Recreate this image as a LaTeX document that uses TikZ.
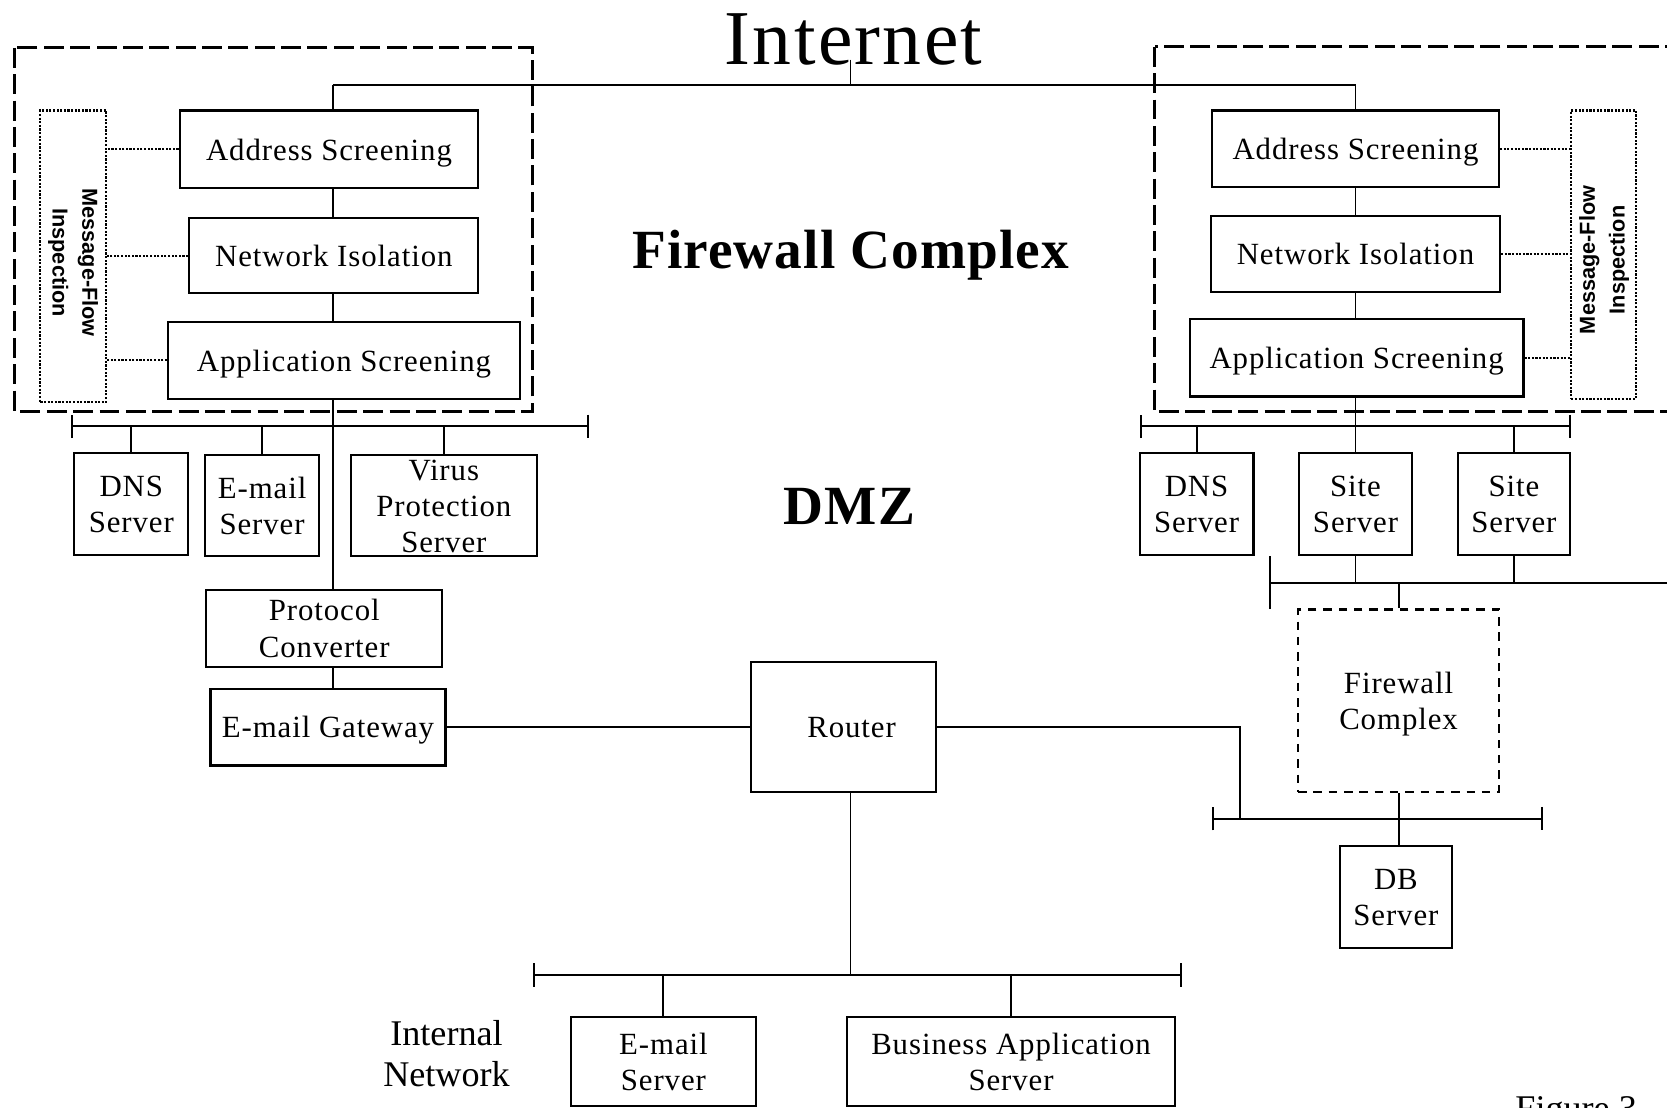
\documentclass[tikz,border=0pt]{standalone}
\usepackage{fontspec}
\setmainfont{Liberation Serif}[LetterSpace=3]
\setsansfont{Liberation Sans}
\newfontfamily\headfont{Liberation Serif}[LetterSpace=2]
\newfontfamily\plainfont{Liberation Serif}
\usetikzlibrary{arrows.meta}

\tikzset{
  boxbase/.style={draw, line width=1pt, inner sep=0pt, text depth=-1pt, font=\fontsize{14.5}{17}\selectfont},
  box/.style={boxbase, align=center},
  sz/.style 2 args={minimum width=#1*0.5pt, minimum height=#2*0.5pt},
  wire/.style={line width=0.9pt},
  bus/.style={wire, {Bar[width=11pt]}-{Bar[width=11pt]}},
  zone/.style={line width=1.5pt, dash pattern=on 9.4pt off 3pt},
  fwbox/.style={box, line width=1.3pt, dash pattern=on 4pt off 3.2pt},
  inspect/.style={draw, line width=1pt, dash pattern=on 1pt off 0.7pt, inner sep=0pt, font=\sffamily\bfseries\fontsize{10.2}{14}\selectfont},
  dots/.style={line width=1pt, dash pattern=on 1pt off 0.7pt},
  heading/.style={font=\headfont\bfseries\fontsize{26}{30}\selectfont, inner sep=0pt},
  plain/.style={font=\plainfont\fontsize{17}{19.5}\selectfont, inner sep=0pt},
}

\begin{document}
\begin{tikzpicture}[x=0.5pt, y=-0.5pt]
\useasboundingbox (0,0) rectangle (1568,1042);

% top
\node[font=\fontsize{36.5}{42}\selectfont, anchor=base, inner sep=0pt] (inettext) at (803,61) {Internet};
\node[heading] (fwtext) at (800,240) {Firewall Complex};
\node[heading] (dmztext) at (799,476) {DMZ};

\coordinate (inet) at (800,56);
\coordinate (spineL) at (313,80);
\coordinate (spineR) at (1275,80);
\draw[wire] (spineL) -- (spineR);
\draw[wire] (inet) -- (inet |- spineL);

% left firewall complex
\node[box, sz={281}{73}] (addrL) at (309.5,140.5) {Address Screening};
\node[box, sz={272}{71}] (netL) at (314,240.5) {Network Isolation};
\node[box, sz={331}{72}] (appL) at (323.5,339) {Application Screening};
\node[inspect, sz={62}{274}] (mfiL) at (69,241) {\rotatebox{-90}{\hspace{6pt}\begin{tabular}{@{}c@{}}Message-Flow\\Inspection\end{tabular}}};
\draw[zone] (14,45) rectangle (501,387);

\draw[wire] (spineL) -- (addrL.north -| spineL);
\draw[wire] (addrL.south -| spineL) -- (netL.north -| spineL);
\draw[wire] (netL.south -| spineL) -- (appL.north -| spineL);
\foreach \n in {addrL,netL,appL}
  \draw[dots] (\n.west) -- (\n.west -| mfiL.east);

% left DMZ
\coordinate (busLw) at (67,401);
\coordinate (busLe) at (554,401);
\draw[bus] (busLw) -- (busLe);
\node[box, sz={107}{96}] (dnsL) at (123.5,474) {DNS\\Server};
\node[box, sz={107}{95}] (mailL) at (246.5,475.5) {E-mail\\Server};
\node[boxbase, sz={175}{95}] (virus) at (417.5,475.5) {\smash{\raisebox{-5.5pt}{\begin{tabular}{@{}c@{}}Virus\\Protection\\Server\end{tabular}}}};
\foreach \n in {dnsL,mailL,virus}
  \draw[wire] (\n.north) -- (\n.north |- busLw);

\node[box, sz={222}{72}] (proto) at (305,591) {Protocol\\Converter};
\node[box, sz={221}{72}] (gate) at (308.5,684) {E-mail Gateway};
\draw[wire] (appL.south -| spineL) -- (proto.north -| spineL);
\draw[wire] (proto.south -| spineL) -- (gate.north -| spineL);

% router and internal network
\node[box, sz={174}{122}] (router) at (793,684) {\hspace{8pt}Router};
\draw[wire] (gate.east) -- (router.west);

\coordinate (busIw) at (501,917);
\coordinate (busIe) at (1112,917);
\coordinate (busIc) at (800,917);
\draw[bus] (busIw) -- (busIe);
\draw[wire] (router.south -| busIc) -- (busIc);
\node[box, sz={174}{83}] (mailI) at (624,998.5) {E-mail\\Server};
\node[box, sz={308}{83}] (bizI) at (951,998.5) {Business Application\\Server};
\foreach \n in {mailI,bizI}
  \draw[wire] (\n.north) -- (\n.north |- busIw);
\node[plain, align=center] (intnet) at (420,991) {Internal\\Network};
\node[plain, anchor=base west] (figlabel) at (1425,1054) {Figure 3};

% right firewall complex
\node[box, sz={270}{72}] (addrR) at (1275,140) {Address Screening};
\node[box, sz={272}{72}] (netR) at (1275,239) {Network Isolation};
\node[box, sz={314}{73}] (appR) at (1276,336.5) {Application Screening};
\node[inspect, sz={61}{271}] (mfiR) at (1508.5,239.5) {\rotatebox{90}{\begin{tabular}{@{}c@{}}Message-Flow\\Inspection\end{tabular}\hspace{5pt}}};
\draw[zone] (1086,44) rectangle (1600,387);

\draw[wire] (spineR) -- (addrR.north -| spineR);
\draw[wire] (addrR.south -| spineR) -- (netR.north -| spineR);
\draw[wire] (netR.south -| spineR) -- (appR.north -| spineR);
\foreach \n in {addrR,netR,appR}
  \draw[dots] (\n.east) -- (\n.east -| mfiR.west);

% right DMZ
\coordinate (busRw) at (1072,401);
\coordinate (busRe) at (1478,401);
\draw[bus] (busRw) -- (busRe);
\node[box, sz={107}{96}] (dnsR) at (1125.5,474) {DNS\\Server};
\node[box, sz={106}{96}] (siteA) at (1275,474) {Site\\Server};
\node[box, sz={106}{96}] (siteB) at (1424,474) {Site\\Server};
\draw[wire] (appR.south -| spineR) -- (siteA.north);
\foreach \n in {dnsR,siteB}
  \draw[wire] (\n.north) -- (\n.north |- busRw);

\coordinate (busMw) at (1194,548);
\coordinate (busMe) at (1580,548);
\draw[wire, {Bar[width=25pt]}-] (busMw) -- (busMe);
\foreach \n in {siteA,siteB}
  \draw[wire] (\n.south) -- (\n.south |- busMw);

\node[fwbox, sz={189}{172}] (fwR) at (1315.5,659) {Firewall\\Complex};
\draw[wire] (fwR.north) -- (fwR.north |- busMw);

\coordinate (busDw) at (1140,770);
\coordinate (busDe) at (1451,770);
\coordinate (tapR) at (1166,770);
\draw[bus] (busDw) -- (busDe);
\node[box, sz={106}{96}] (db) at (1313,844) {DB\\Server};
\draw[wire] (fwR.south) -- (fwR.south |- db.north);
\draw[wire] (router.east) -| (tapR);

\end{tikzpicture}
\end{document}
